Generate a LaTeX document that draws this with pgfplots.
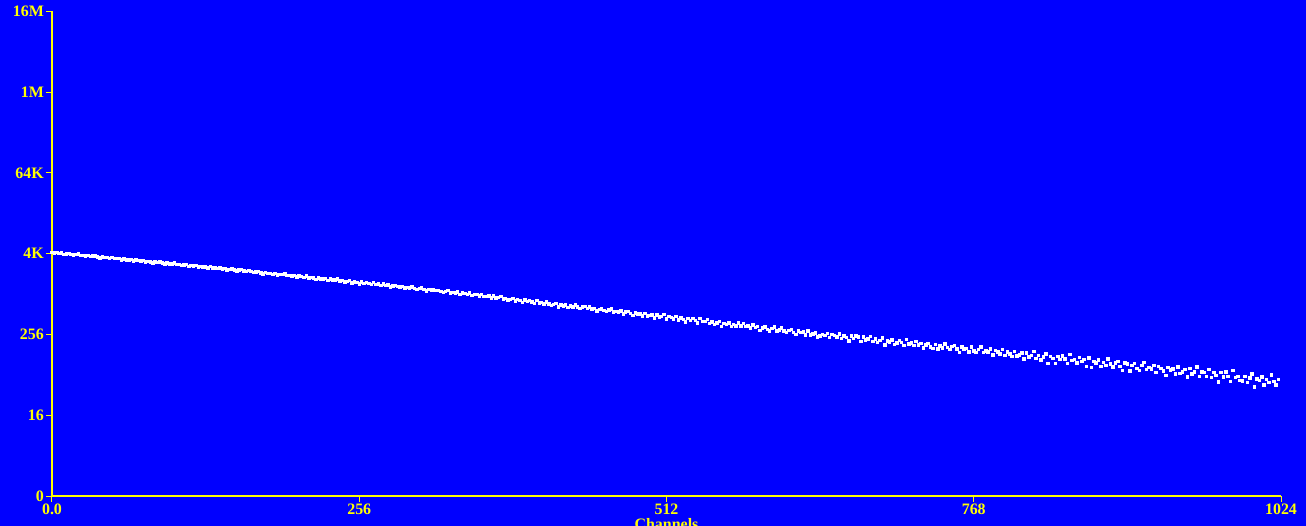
\documentclass[border=0pt]{standalone}
\usepackage{pgfplots}
\pgfplotsset{compat=1.18}
\usepackage{fontspec}
\setmainfont{Liberation Serif}
\definecolor{bgblue}{RGB}{0,0,255}
\definecolor{axyellow}{RGB}{255,255,0}
\begin{document}
\begin{tikzpicture}
\fill[bgblue] (-52bp,-30bp) rectangle (1254bp,496bp);
\useasboundingbox (-52bp,-30bp) rectangle (1254bp,496bp);
\begin{axis}[
  at={(0,0)}, anchor=south west,
  scale only axis, width=1229bp, height=484.5bp,
  xmin=0, xmax=1024, ymin=1, ymax=16777216,
  ymode=log, log basis y=2,
  axis x line=bottom, axis y line=left,
  axis line style={-, axyellow, line width=2bp},
  every outer x axis line/.append style={-},
  every outer y axis line/.append style={-},
  xtick={0,256,512,768,1024}, xticklabels={0.0,256,512,768,1024},
  ytick={1,16,256,4096,65536,1048576,16777216},
  yticklabels={0,16,256,4K,64K,1M,16M},
  tick align=outside, major tick length=6bp,
  tick style={axyellow, line width=1bp},
  minor tick num=0,
  tick label style={text=axyellow, font=\fontsize{16}{16}\selectfont\bfseries, inner sep=0pt},
  xticklabel style={anchor=north, yshift=-2bp},
  yticklabel style={anchor=east, xshift=-2bp},
  xlabel={Channels},
  xlabel style={text=axyellow, font=\fontsize{16}{16}\selectfont\bfseries, inner sep=0pt,
    at={(axis description cs:0.5,0)}, anchor=north, yshift=-22.5bp},
]
\addplot[only marks, color=white, mark=square*, mark size=1.25bp, mark options={draw=white, fill=white, line width=0pt}]
table[header=false, x expr=\coordindex*2, y index=0, row sep=\\] {
4289\\ 4189\\ 4283\\ 4163\\ 4183\\ 4018\\ 4088\\ 4108\\ 3988\\ 3919\\ 3982\\ 4027\\ 3850\\ 3863\\ 3813\\ 3863\\
3715\\ 3772\\ 3780\\ 3663\\ 3563\\ 3674\\ 3604\\ 3595\\ 3489\\ 3594\\ 3453\\ 3455\\ 3476\\ 3328\\ 3439\\ 3327\\
3313\\ 3362\\ 3214\\ 3296\\ 3243\\ 3174\\ 3261\\ 3109\\ 3162\\ 3104\\ 2985\\ 3106\\ 3015\\ 3074\\ 2988\\ 2890\\
2986\\ 2891\\ 2901\\ 2968\\ 2810\\ 2852\\ 2752\\ 2788\\ 2834\\ 2645\\ 2733\\ 2685\\ 2721\\ 2596\\ 2646\\ 2584\\
2593\\ 2509\\ 2646\\ 2522\\ 2527\\ 2453\\ 2531\\ 2441\\ 2460\\ 2337\\ 2396\\ 2414\\ 2325\\ 2276\\ 2330\\ 2367\\
2278\\ 2223\\ 2303\\ 2211\\ 2158\\ 2204\\ 2215\\ 2128\\ 2055\\ 2143\\ 2093\\ 2090\\ 2012\\ 2096\\ 1991\\ 1997\\
2005\\ 2042\\ 1927\\ 1942\\ 1913\\ 1954\\ 1843\\ 1910\\ 1874\\ 1823\\ 1894\\ 1779\\ 1825\\ 1783\\ 1695\\ 1790\\
1713\\ 1719\\ 1738\\ 1644\\ 1723\\ 1653\\ 1664\\ 1718\\ 1601\\ 1635\\ 1561\\ 1592\\ 1630\\ 1489\\ 1559\\ 1526\\
1456\\ 1542\\ 1485\\ 1530\\ 1477\\ 1416\\ 1525\\ 1433\\ 1440\\ 1387\\ 1451\\ 1385\\ 1405\\ 1313\\ 1362\\ 1380\\
1341\\ 1311\\ 1339\\ 1257\\ 1294\\ 1255\\ 1317\\ 1248\\ 1209\\ 1247\\ 1256\\ 1191\\ 1138\\ 1207\\ 1170\\ 1170\\
1150\\ 1168\\ 1112\\ 1084\\ 1125\\ 1156\\ 1071\\ 1085\\ 1066\\ 1100\\ 1018\\ 1072\\ 1048\\ 1012\\ 1069\\ 984\\
1005\\ 1004\\ 955\\ 1011\\ 944\\ 949\\ 963\\ 893\\ 953\\ 901\\ 909\\ 950\\ 862\\ 888\\ 833\\ 856\\
885\\ 814\\ 845\\ 821\\ 766\\ 831\\ 790\\ 825\\ 786\\ 743\\ 824\\ 758\\ 764\\ 727\\ 775\\ 728\\
697\\ 720\\ 747\\ 658\\ 705\\ 686\\ 709\\ 650\\ 680\\ 653\\ 701\\ 653\\ 627\\ 656\\ 666\\ 620\\
653\\ 614\\ 627\\ 572\\ 604\\ 619\\ 579\\ 560\\ 590\\ 613\\ 552\\ 564\\ 551\\ 577\\ 518\\ 559\\
560\\ 522\\ 492\\ 537\\ 517\\ 520\\ 486\\ 530\\ 484\\ 490\\ 503\\ 454\\ 501\\ 465\\ 473\\ 507\\
437\\ 473\\ 458\\ 437\\ 475\\ 423\\ 449\\ 432\\ 392\\ 443\\ 414\\ 441\\ 414\\ 383\\ 446\\ 398\\
400\\ 429\\ 376\\ 396\\ 363\\ 381\\ 402\\ 338\\ 374\\ 361\\ 378\\ 337\\ 360\\ 342\\ 378\\ 344\\
376\\ 335\\ 341\\ 319\\ 352\\ 323\\ 335\\ 294\\ 320\\ 331\\ 303\\ 289\\ 313\\ 332\\ 287\\ 297\\
319\\ 290\\ 274\\ 295\\ 302\\ 275\\ 254\\ 289\\ 275\\ 278\\ 253\\ 288\\ 253\\ 260\\ 271\\ 235\\
245\\ 254\\ 247\\ 266\\ 229\\ 257\\ 247\\ 233\\ 262\\ 224\\ 244\\ 232\\ 204\\ 242\\ 222\\ 243\\
233\\ 202\\ 234\\ 212\\ 218\\ 241\\ 202\\ 218\\ 194\\ 208\\ 226\\ 177\\ 206\\ 197\\ 212\\ 181\\
191\\ 210\\ 193\\ 174\\ 216\\ 186\\ 191\\ 175\\ 200\\ 180\\ 189\\ 160\\ 179\\ 189\\ 168\\ 159\\
182\\ 156\\ 172\\ 160\\ 186\\ 164\\ 153\\ 169\\ 175\\ 155\\ 139\\ 167\\ 156\\ 159\\ 141\\ 167\\
145\\ 137\\ 154\\ 166\\ 138\\ 145\\ 140\\ 155\\ 127\\ 148\\ 141\\ 131\\ 154\\ 124\\ 140\\ 132\\
121\\ 144\\ 122\\ 127\\ 135\\ 111\\ 136\\ 119\\ 125\\ 142\\ 112\\ 124\\ 107\\ 118\\ 131\\ 95\\
120\\ 113\\ 94\\ 120\\ 108\\ 122\\ 110\\ 95\\ 128\\ 105\\ 109\\ 97\\ 117\\ 102\\ 109\\ 86\\
114\\ 82\\ 101\\ 96\\ 106\\ 85\\ 98\\ 89\\ 110\\ 93\\ 84\\ 97\\ 102\\ 86\\ 74\\ 96\\
93\\ 73\\ 88\\ 94\\ 80\\ 75\\ 88\\ 98\\ 77\\ 82\\ 78\\ 89\\ 69\\ 85\\ 80\\ 73\\
63\\ 82\\ 76\\ 78\\ 66\\ 84\\ 67\\ 71\\ 77\\ 59\\ 79\\ 66\\ 71\\ 84\\ 61\\ 71\\
69\\ 61\\ 77\\ 58\\ 69\\ 63\\ 50\\ 69\\ 60\\ 71\\ 61\\ 51\\ 75\\ 58\\ 61\\ 53\\
52\\ 61\\ 49\\ 57\\ 66\\ 42\\ 56\\ 53\\ 60\\ 45\\ 55\\ 49\\ 64\\ 51\\ 45\\ 55\\
};
\end{axis}
\end{tikzpicture}
\end{document}
